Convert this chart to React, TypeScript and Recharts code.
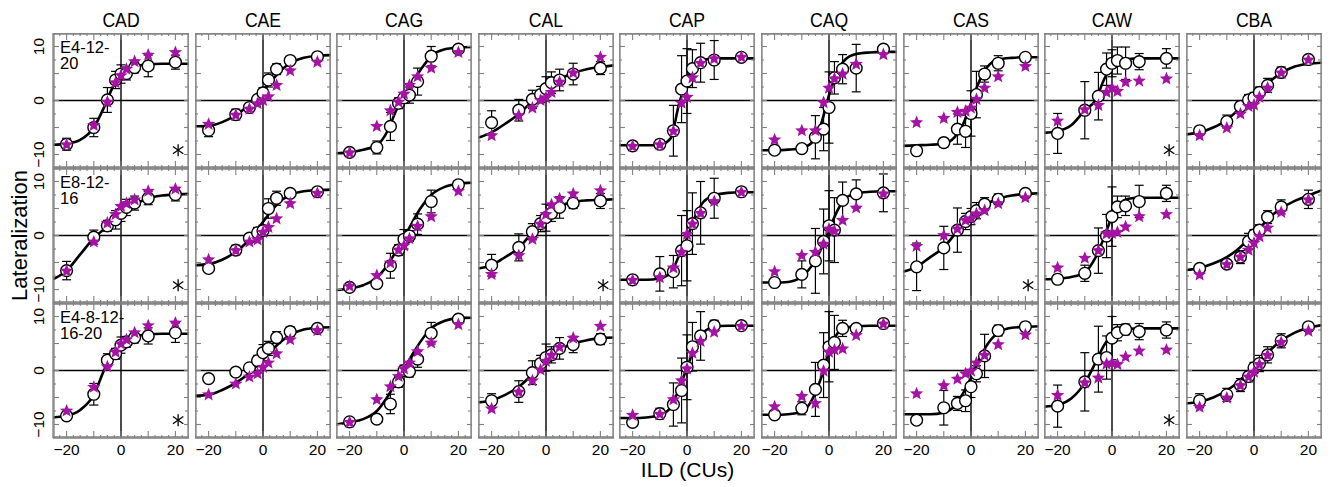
import React from "react";
import { ComposedChart, Line, Scatter, ErrorBar, XAxis, YAxis, ReferenceLine } from "recharts";

const SUBJECTS = ["CAD", "CAE", "CAG", "CAL", "CAP", "CAQ", "CAS", "CAW", "CBA"];
const CONDITIONS = [["E4-12-", "20"], ["E8-12-", "16"], ["E4-8-12-", "16-20"]];
const ILD = [-20, -10, -5, -2, 0, 2, 5, 10, 20];
const FIT_ILD = [-25, -20, -15, -10, -6, -3, 0, 3, 6, 10, 15, 20, 25];

const X_LABEL_TICKS = [-20, 0, 20];
const Y_LABEL_TICKS = [-10, 0, 10];
const X_MAJOR = [-20, -10, 0, 10, 20];
const X_MINOR = [-22.5, -17.5, -15, -12.5, -7.5, -5, -2.5, 2.5, 5, 7.5, 12.5, 15, 17.5, 22.5];
const Y_MAJOR = [-10, -5, 0, 5, 10];
const Y_MINOR = [-7.5, -2.5, 2.5, 7.5];

// E4-12-20
const circlesE4_12_20 = [
  [-8.1, -5.0, 0.1, 3.8, 4.9, 5.0, 6.1, 6.4, 7.1],
  [-5.5, -2.6, -1.3, 0.2, 1.4, 3.8, 5.8, 7.4, 8.1],
  [-9.6, -8.7, -4.8, -0.5, 0.5, 1.0, 3.5, 8.2, 9.5],
  [-4.1, -1.8, 0.2, 1.1, 2.2, 3.3, 3.8, 4.9, 6.0],
  [-8.4, -8.1, -5.6, 2.1, 3.6, 5.9, 7.0, 7.5, 8.0],
  [-9.2, -8.9, -6.8, -5.3, -1.3, 4.2, 5.8, 6.0, 9.5],
  [-9.3, -7.8, -5.3, -5.7, -2.4, 1.1, 4.9, 6.9, 8.0],
  [-6.1, -1.8, 0.8, 5.8, 6.9, 7.4, 6.9, 7.2, 7.8],
  [-5.6, -3.9, -1.1, 0.1, 0.5, 1.5, 2.8, 5.2, 7.6],
];
const errE4_12_20 = [
  [1.1, 1.7, 2.3, 1.6, 1.7, 1.2, 1.0, 2.0, 1.3],
  [1.2, 1.0, 0.6, 0.6, 1.0, 1.3, 1.0, 0.6, 0.5],
  [0.5, 1.2, 2.6, 1.0, 1.0, 1.5, 2.5, 1.8, 0.5],
  [2.2, 2.0, 1.7, 1.5, 2.2, 2.0, 2.0, 2.0, 1.2],
  [0.8, 0.8, 4.7, 6.2, 6.0, 3.5, 3.6, 3.6, 0.5],
  [0.6, 0.6, 4.0, 4.0, 6.6, 3.0, 2.7, 4.4, 0.6],
  [0.5, 0.8, 2.8, 3.0, 4.2, 4.3, 1.5, 1.4, 0.5],
  [3.7, 5.3, 4.4, 3.0, 2.5, 2.5, 3.0, 1.5, 1.8],
  [0.6, 1.2, 0.8, 1.0, 1.0, 1.0, 1.3, 1.0, 0.6],
];
const starsE4_12_20 = [
  [-8.1, -4.5, -0.2, 3.4, 4.7, 5.9, 7.3, 8.5, 9.0],
  [-4.3, -2.6, -1.5, -0.5, 0.1, 0.8, 2.9, 5.6, 7.2],
  [-9.6, -4.7, -1.8, -0.2, 1.3, 2.9, 4.5, 6.1, 9.0],
  [-6.4, -2.7, -1.3, 0.1, 0.6, 1.6, 3.5, 5.2, 8.1],
  [-8.4, -8.1, -5.6, -0.4, 0.7, 4.3, 7.0, 7.8, 8.1],
  [-7.2, -5.5, -5.5, -0.3, 2.4, 4.1, 5.0, 6.8, 8.6],
  [-4.0, -3.2, -2.1, -1.9, -1.3, 0.3, 2.4, 4.5, 6.4],
  [-3.7, -1.6, -0.8, 1.6, 2.4, 1.8, 3.5, 3.7, 4.1],
  [-6.4, -5.0, -2.4, -1.0, -0.7, 0.7, 2.4, 5.2, 7.6],
];
const fitE4_12_20 = [
  [-8.2, -8.0, -7.3, -5.0, -1.0, 2.5, 4.5, 5.8, 6.4, 6.7, 6.8, 6.8, 6.8],
  [-4.8, -4.7, -4.0, -2.7, -1.2, 0.2, 1.8, 3.5, 5.3, 6.9, 7.9, 8.3, 8.4],
  [-9.8, -9.6, -9.1, -8.3, -5.6, -2.0, 0.9, 3.4, 5.6, 8.2, 9.5, 9.8, 9.9],
  [-6.9, -5.9, -4.3, -2.5, -0.6, 0.9, 2.2, 3.3, 4.2, 5.1, 5.8, 6.2, 6.5],
  [-8.3, -8.3, -8.3, -8.2, -7.0, -0.8, 3.8, 6.5, 7.5, 7.8, 7.8, 7.8, 7.8],
  [-9.2, -9.2, -9.1, -8.8, -7.6, -4.5, 1.0, 5.3, 7.6, 8.6, 8.9, 9.0, 9.0],
  [-8.4, -8.3, -8.2, -8.0, -6.8, -4.5, -0.5, 3.5, 6.2, 7.6, 7.9, 8.0, 8.0],
  [-6.0, -5.7, -4.6, -1.8, 0.1, 3.8, 6.5, 7.4, 7.7, 7.8, 7.8, 7.8, 7.8],
  [-6.3, -5.9, -5.0, -3.6, -1.8, -0.3, 1.0, 2.3, 3.6, 5.1, 6.3, 6.8, 7.0],
];

// E8-12-16
const circlesE8_12_16 = [
  [-6.5, -0.3, 1.8, 2.9, 4.1, 5.2, 6.0, 6.9, 7.6],
  [-6.1, -2.7, -0.5, 0.5, 0.9, 5.0, 6.9, 7.8, 8.1],
  [-9.6, -8.9, -5.6, -2.7, -0.7, -0.1, 2.1, 6.3, 9.4],
  [-5.5, -2.2, 0.7, 2.2, 3.3, 4.1, 5.2, 6.0, 6.4],
  [-8.2, -7.1, -6.7, -2.8, -1.9, 2.2, 4.2, 6.9, 8.1],
  [-8.7, -7.2, -4.7, -1.1, 1.8, 1.0, 6.5, 7.7, 7.9],
  [-5.8, -2.3, 1.0, 2.6, 3.5, 4.6, 5.8, 6.7, 7.8],
  [-8.1, -7.0, -2.8, -0.1, 3.5, 5.3, 5.5, 6.3, 7.8],
  [-6.1, -5.3, -4.0, -1.1, 0.1, 1.0, 3.4, 5.3, 6.7],
];
const errE8_12_16 = [
  [1.7, 1.3, 1.0, 1.7, 1.5, 1.5, 1.3, 1.2, 1.2],
  [0.6, 0.9, 0.6, 1.0, 1.0, 1.8, 1.3, 0.6, 0.6],
  [0.5, 0.6, 2.3, 1.0, 1.8, 1.0, 1.9, 2.1, 0.5],
  [2.0, 2.5, 1.5, 1.5, 2.5, 1.5, 2.0, 1.0, 1.4],
  [0.5, 3.2, 3.0, 6.5, 6.5, 5.7, 5.8, 3.7, 0.5],
  [0.6, 2.5, 6.0, 6.0, 6.5, 6.0, 3.4, 2.6, 3.5],
  [4.4, 4.0, 4.1, 1.5, 1.5, 1.5, 1.2, 1.0, 0.6],
  [0.8, 1.5, 4.2, 4.0, 5.5, 2.0, 1.8, 3.0, 1.5],
  [0.6, 0.6, 1.2, 1.5, 1.0, 1.0, 1.2, 1.3, 1.7],
];
const starsE8_12_16 = [
  [-6.5, -1.1, 2.4, 4.0, 5.5, 6.0, 6.7, 8.3, 8.7],
  [-4.4, -2.7, -1.1, -0.7, 0.7, 1.6, 3.2, 6.0, 7.9],
  [-9.3, -7.3, -5.0, -2.6, -1.8, -0.5, 1.8, 3.6, 8.3],
  [-7.1, -3.6, -0.6, 2.2, 4.0, 5.8, 6.9, 7.8, 8.4],
  [-8.2, -7.7, -5.9, -3.0, 0.3, 2.2, 4.2, 6.4, 8.1],
  [-6.6, -3.6, -3.0, -1.5, 1.3, 0.9, 2.9, 5.2, 7.8],
  [-1.9, 0.1, 1.3, 2.9, 3.2, 4.1, 4.7, 6.0, 7.1],
  [-5.9, -4.1, -2.7, 0.4, 0.5, 0.7, 1.7, 3.6, 4.0],
  [-7.2, -5.3, -3.9, -2.6, -1.3, -0.1, 1.5, 4.4, 6.7],
];
const fitE8_12_16 = [
  [-8.1, -6.5, -3.5, -0.5, 1.3, 2.8, 4.0, 5.1, 6.0, 6.9, 7.4, 7.6, 7.7],
  [-5.5, -5.3, -4.5, -3.0, -1.3, 0.5, 2.5, 4.5, 6.2, 7.5, 8.2, 8.4, 8.5],
  [-10.1, -9.8, -9.2, -7.8, -5.4, -3.0, -0.4, 2.4, 5.0, 7.5, 9.0, 9.6, 9.8],
  [-6.1, -5.5, -4.0, -2.3, 0.0, 1.8, 3.4, 4.7, 5.6, 6.2, 6.5, 6.6, 6.7],
  [-8.2, -8.2, -8.2, -7.9, -7.0, -3.8, -0.5, 3.5, 6.2, 7.4, 7.9, 8.0, 8.0],
  [-8.7, -8.7, -8.6, -7.6, -5.4, -2.6, 1.0, 4.5, 6.9, 7.8, 8.1, 8.2, 8.2],
  [-6.7, -5.8, -4.0, -2.2, 0.2, 2.0, 3.6, 4.9, 5.9, 6.8, 7.4, 7.7, 7.8],
  [-8.1, -8.0, -7.7, -6.8, -4.0, -0.5, 3.5, 6.0, 6.8, 7.0, 7.0, 7.0, 7.0],
  [-6.4, -6.0, -5.2, -4.0, -2.6, -1.2, 0.3, 1.9, 3.5, 5.0, 6.4, 7.4, 8.4],
];

// E4-8-12-16-20
const circlesE4_8_12_16_20 = [
  [-8.4, -4.4, 1.9, 3.1, 4.7, 5.3, 6.1, 6.4, 7.0],
  [-1.5, -0.3, 0.5, 1.8, 3.3, 4.1, 6.1, 7.2, 7.8],
  [-9.5, -9.0, -6.2, -2.1, 0.0, -0.2, 2.1, 6.9, 9.5],
  [-5.6, -3.9, -0.4, 1.3, 2.4, 2.9, 4.1, 4.8, 5.8],
  [-9.6, -8.0, -6.3, -3.7, 0.6, 4.4, 6.4, 8.3, 8.3],
  [-8.2, -7.0, -3.5, 1.0, 4.4, 5.2, 7.8, 7.8, 8.7],
  [-9.2, -6.9, -6.1, -5.6, -3.0, -0.6, 2.7, 7.4, 8.1],
  [-6.6, -2.1, 2.1, 2.4, 6.0, 7.0, 7.6, 7.2, 7.5],
  [-5.6, -4.5, -2.7, -1.1, 0.5, 1.3, 2.9, 5.5, 8.1],
];
const errE4_8_12_16_20 = [
  [0.8, 2.0, 1.2, 1.0, 1.5, 1.0, 1.0, 1.5, 1.8],
  [0.5, 0.5, 0.6, 1.0, 1.5, 1.3, 1.1, 0.9, 0.5],
  [0.5, 0.5, 1.8, 1.0, 1.0, 1.0, 1.5, 2.0, 0.5],
  [1.3, 2.0, 2.2, 1.5, 2.5, 1.5, 2.0, 1.5, 1.0],
  [0.5, 1.0, 4.0, 6.0, 6.0, 4.5, 4.5, 1.0, 0.5],
  [0.6, 1.2, 5.0, 6.0, 6.5, 5.0, 1.5, 0.6, 0.5],
  [0.5, 3.2, 1.3, 2.0, 2.0, 1.5, 4.0, 1.0, 0.8],
  [3.9, 5.4, 6.1, 4.0, 4.0, 1.5, 1.0, 1.5, 1.5],
  [1.3, 1.2, 1.2, 1.0, 1.0, 1.5, 1.5, 1.3, 0.6],
];
const starsE4_8_12_16_20 = [
  [-7.4, -3.0, 0.8, 3.5, 5.0, 5.8, 7.1, 8.4, 8.9],
  [-4.4, -2.4, -1.1, -0.5, 0.7, 1.5, 3.2, 5.8, 7.5],
  [-9.5, -5.3, -2.9, -1.0, 0.4, 1.5, 3.6, 5.2, 8.6],
  [-7.0, -3.9, -1.8, 0.2, 1.8, 2.9, 4.4, 6.1, 8.3],
  [-8.2, -8.0, -5.3, -1.8, 0.4, 3.3, 5.5, 7.2, 8.3],
  [-6.6, -4.7, -6.0, 0.0, 3.5, 3.9, 4.1, 6.6, 8.7],
  [-4.2, -2.7, -1.5, -0.5, 0.0, 1.5, 2.9, 4.9, 6.7],
  [-4.5, -2.2, -1.3, 1.3, 1.5, 1.2, 2.6, 3.7, 3.9],
  [-6.7, -5.0, -2.7, -1.1, -0.2, 1.2, 2.9, 5.3, 7.4],
];
const fitE4_8_12_16_20 = [
  [-8.7, -8.4, -7.3, -4.5, 0.3, 3.0, 4.7, 5.8, 6.4, 6.7, 6.8, 6.8, 6.8],
  [-4.7, -4.5, -3.6, -2.3, -0.9, 0.5, 2.0, 3.6, 5.1, 6.6, 7.6, 7.9, 8.0],
  [-10.0, -9.6, -9.0, -7.5, -4.8, -2.3, 0.3, 2.9, 5.3, 7.8, 9.2, 9.7, 9.8],
  [-5.9, -5.5, -4.5, -3.0, -1.2, 0.4, 1.9, 3.1, 4.1, 5.0, 5.6, 6.0, 6.1],
  [-8.8, -8.8, -8.7, -8.3, -6.8, -3.5, 0.5, 4.5, 7.0, 8.1, 8.3, 8.3, 8.3],
  [-8.2, -8.2, -8.1, -7.6, -5.2, -1.5, 3.5, 6.8, 7.9, 8.2, 8.3, 8.3, 8.3],
  [-8.1, -8.1, -8.1, -7.8, -6.6, -4.3, -1.3, 2.0, 4.8, 7.0, 7.9, 8.1, 8.2],
  [-6.7, -6.4, -5.2, -2.3, 1.5, 4.6, 6.6, 7.4, 7.7, 7.8, 7.8, 7.8, 7.8],
  [-6.1, -5.8, -5.0, -3.7, -2.2, -0.7, 0.8, 2.3, 3.8, 5.5, 7.0, 7.9, 8.4],
];

// panels marked with an asterisk, per condition row
const ASTERISK_PANELS = [["CAD", "CAW"], ["CAD", "CAL", "CAS"], ["CAD", "CAW"]];
const ASTERISK_AT = [{ x: 21, y: -9.2 }];

const ROWS = [
  { circles: circlesE4_12_20, err: errE4_12_20, stars: starsE4_12_20, fit: fitE4_12_20 },
  { circles: circlesE8_12_16, err: errE8_12_16, stars: starsE8_12_16, fit: fitE8_12_16 },
  { circles: circlesE4_8_12_16_20, err: errE4_8_12_16_20, stars: starsE4_8_12_16_20, fit: fitE4_8_12_16_20 },
];

const PANEL_W = 136;
const PANEL_H = 135;
const LEFT0 = 53;
const STEP = 141.6;
const TOP0 = 33;
const FRAME = "#808080";
const MAGENTA = "#a413a4";
const FONT = "'Liberation Sans', Arial, Helvetica, sans-serif";

const fmt = (v: number) => (v < 0 ? `\u2212${Math.abs(v)}` : `${v}`);
const panelLeft = (col: number) => Math.round(LEFT0 + col * STEP);

const NoTick = () => <g />;

const OpenCircle = (props: any) => {
  const { cx, cy } = props;
  if (typeof cx !== "number" || typeof cy !== "number") return null;
  return <circle cx={cx} cy={cy} r={5.9} fill="#fff" stroke="#000" strokeWidth={1.4} />;
};

const Star = (props: any) => {
  const { cx, cy } = props;
  if (typeof cx !== "number" || typeof cy !== "number") return null;
  const pts = Array.from({ length: 10 }, (_, i) => {
    const a = -Math.PI / 2 + (i * Math.PI) / 5;
    const rad = i % 2 === 0 ? 7 : 3.1;
    return `${cx + rad * Math.cos(a)},${cy + 0.5 + rad * Math.sin(a)}`;
  }).join(" ");
  return <polygon points={pts} fill={MAGENTA} stroke="none" />;
};

const Asterisk = (props: any) => {
  const { cx, cy } = props;
  if (typeof cx !== "number" || typeof cy !== "number") return null;
  return (
    <g stroke="#000" strokeWidth={1.3}>
      <line x1={cx} y1={cy - 6} x2={cx} y2={cy + 6} />
      <line x1={cx - 5.2} y1={cy - 3.6} x2={cx + 5.2} y2={cy + 3.6} />
      <line x1={cx - 5.2} y1={cy + 3.6} x2={cx + 5.2} y2={cy - 3.6} />
    </g>
  );
};

const YTickLabel = (props: any) => {
  const { x, y, payload } = props;
  return (
    <text x={x} y={y} transform={`rotate(-90 ${x} ${y})`} textAnchor="middle" fontSize={15.5} fontFamily={FONT} fill="#000">
      {fmt(payload.value)}
    </text>
  );
};

function Panel({ row, col }: { row: number; col: number }) {
  const data = ROWS[row];
  const showY = col === 0;
  const showX = row === 2;
  const padL = showY ? 40 : 0;
  const padB = showX ? 30 : 0;
  const fitData = FIT_ILD.map((x, i) => ({ x, y: data.fit[col][i] }));
  const circleData = ILD.map((x, i) => ({ x, y: data.circles[col][i], err: data.err[col][i] }));
  const starData = ILD.map((x, i) => ({ x, y: data.stars[col][i] }));
  const hasAsterisk = ASTERISK_PANELS[row].includes(SUBJECTS[col]);
  const frameAxis = {
    type: "number" as const,
    allowDataOverflow: true,
    mirror: true,
    interval: 0,
    tick: <NoTick />,
    axisLine: { stroke: FRAME, strokeWidth: 1.3 },
    tickLine: { stroke: FRAME, strokeWidth: 1.1 },
  };

  return (
    <div style={{ position: "absolute", left: panelLeft(col) - padL, top: TOP0 + row * PANEL_H }}>
      <ComposedChart width={PANEL_W + padL} height={PANEL_H + padB} margin={{ top: 0, right: 0, bottom: 0, left: 0 }}>
        <XAxis xAxisId={0} dataKey="x" domain={[-25, 25]} ticks={X_MINOR} orientation="bottom" height={1} tickSize={3} {...frameAxis} />
        <XAxis xAxisId="bMajor" dataKey="x" domain={[-25, 25]} ticks={X_MAJOR} orientation="bottom" height={1} tickSize={6} {...frameAxis} />
        <XAxis xAxisId="top" dataKey="x" domain={[-25, 25]} ticks={X_MINOR} orientation="top" height={1} tickSize={3} {...frameAxis} />
        <XAxis xAxisId="topMajor" dataKey="x" domain={[-25, 25]} ticks={X_MAJOR} orientation="top" height={1} tickSize={6} {...frameAxis} />
        {showX && (
          <XAxis
            xAxisId="labels"
            dataKey="x"
            type="number"
            domain={[-25, 25]}
            allowDataOverflow
            ticks={X_LABEL_TICKS}
            interval={0}
            orientation="bottom"
            height={30}
            tickSize={4}
            tickMargin={2}
            axisLine={false}
            tickLine={false}
            tickFormatter={fmt}
            tick={{ fontSize: 15.5, fill: "#000", fontFamily: FONT }}
          />
        )}
        <YAxis yAxisId={0} domain={[-12.5, 12.5]} ticks={Y_MINOR} orientation="left" width={1} tickSize={3} {...frameAxis} />
        <YAxis yAxisId="lMajor" domain={[-12.5, 12.5]} ticks={Y_MAJOR} orientation="left" width={1} tickSize={5} {...frameAxis} />
        <YAxis yAxisId="right" domain={[-12.5, 12.5]} ticks={Y_MINOR} orientation="right" width={1} tickSize={3} {...frameAxis} />
        <YAxis yAxisId="rMajor" domain={[-12.5, 12.5]} ticks={Y_MAJOR} orientation="right" width={1} tickSize={5} {...frameAxis} />
        {showY && (
          <YAxis
            yAxisId="labels"
            type="number"
            domain={[-12.5, 12.5]}
            allowDataOverflow
            ticks={Y_LABEL_TICKS}
            interval={0}
            orientation="left"
            width={40}
            tickSize={9.5}
            tickMargin={0}
            axisLine={false}
            tickLine={false}
            tick={<YTickLabel />}
          />
        )}
        <ReferenceLine x={0} stroke="#000" strokeWidth={1.4} />
        <ReferenceLine y={0} stroke="#000" strokeWidth={1.4} />
        <Line data={fitData} dataKey="y" type="monotone" stroke="#000" strokeWidth={2.6} dot={false} activeDot={false} isAnimationActive={false} />
        <Scatter data={circleData} dataKey="y" shape={<OpenCircle />} isAnimationActive={false}>
          <ErrorBar dataKey="err" direction="y" width={4.5} stroke="#000" strokeWidth={1.2} />
        </Scatter>
        <Scatter data={starData} dataKey="y" shape={<Star />} isAnimationActive={false} />
        {hasAsterisk && <Scatter data={ASTERISK_AT} dataKey="y" shape={<Asterisk />} isAnimationActive={false} />}
      </ComposedChart>
    </div>
  );
}

export default function App() {
  return (
    <div style={{ position: "absolute", left: 0, top: 0, width: 1333, height: 487, background: "#fff", overflow: "hidden" }}>
      {ROWS.map((_, row) => SUBJECTS.map((s, col) => <Panel key={`${row}-${s}`} row={row} col={col} />))}
      <svg width={1333} height={487} style={{ position: "absolute", left: 0, top: 0, pointerEvents: "none" }}>
        {SUBJECTS.map((s, col) => (
          <text
            key={s}
            x={0}
            y={0}
            transform={`translate(${panelLeft(col) + PANEL_W / 2} 27) scale(0.84 1)`}
            textAnchor="middle"
            fontSize={21}
            fontFamily={FONT}
            fill="#000"
          >
            {s}
          </text>
        ))}
        {CONDITIONS.map((lines, row) =>
          lines.map((t, k) => (
            <text key={`${row}-${k}`} x={60} y={TOP0 + row * PANEL_H + 20 + k * 15.5} fontSize={16.5} fontFamily={FONT} fill="#000">
              {t}
            </text>
          ))
        )}
        <text x={27} y={235.5} transform="rotate(-90 27 235.5)" textAnchor="middle" fontSize={22} fontFamily={FONT} fill="#000">
          Lateralization
        </text>
        <text x={687.5} y={477} textAnchor="middle" fontSize={21} fontFamily={FONT} fill="#000">
          ILD (CUs)
        </text>
      </svg>
    </div>
  );
}
